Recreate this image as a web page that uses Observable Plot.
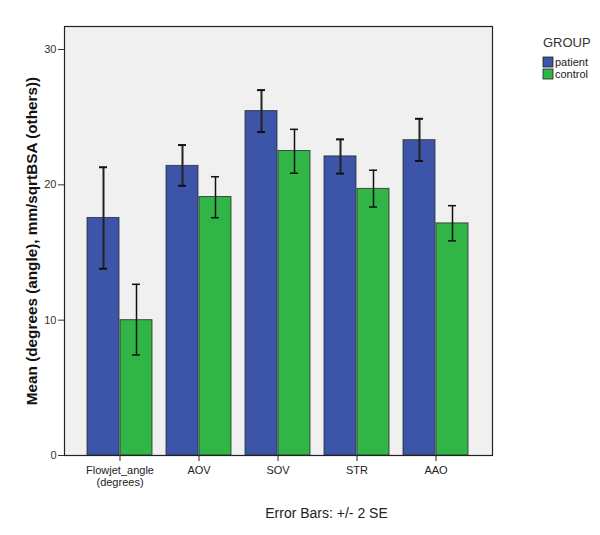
<!DOCTYPE html>
<html>
<head>
<meta charset="utf-8">
<script src="https://cdn.jsdelivr.net/npm/d3@7"></script>
<script src="https://cdn.jsdelivr.net/npm/@observablehq/plot@0.6"></script>
<style>
  html, body { margin: 0; padding: 0; background: #fff; }
  svg { font-family: "Liberation Sans", Arial, sans-serif; }
</style>
</head>
<body>
<div id="chart"></div>
<script>
const categories = ["Flowjet_angle\n(degrees)", "AOV", "SOV", "STR", "AAO"];
const groups = ["patient", "control"];
const patientMean = [17.55, 21.4, 25.45, 22.1, 23.3];
const patientLow  = [13.8, 19.93, 23.9, 20.83, 21.76];
const patientHigh = [21.3, 22.94, 27.0, 23.36, 24.88];
const controlMean = [10.0, 19.1, 22.5, 19.7, 17.15];
const controlLow  = [7.43, 17.57, 20.86, 18.36, 15.86];
const controlHigh = [12.65, 20.6, 24.1, 21.08, 18.46];
const yTicks = [0, 10, 20, 30];
const groupColors = ["#3d55a8", "#30b546"];

const patient = categories.map((c, i) => ({cat: c, mean: patientMean[i], lo: patientLow[i], hi: patientHigh[i]}));
const control = categories.map((c, i) => ({cat: c, mean: controlMean[i], lo: controlLow[i], hi: controlHigh[i]}));

const half = 16.5;
const chart = Plot.plot({
  width: 600,
  height: 535,
  marginLeft: 64,
  marginRight: 108,
  marginTop: 26,
  marginBottom: 80,
  style: {fontFamily: "Liberation Sans, Arial, sans-serif", background: "#fff"},
  x: {domain: categories, paddingInner: 0.175, paddingOuter: 0.2625, label: null},
  y: {domain: [0, 31.7], label: null},
  marks: [
    Plot.frame({fill: "#f0f0f0", stroke: "none"}),
    Plot.barY(patient, {x: "cat", y: "mean", fill: groupColors[0], insetRight: 33, stroke: "#2a2a2a", strokeWidth: 1, strokeOpacity: 0.8}),
    Plot.barY(control, {x: "cat", y: "mean", fill: groupColors[1], insetLeft: 33, stroke: "#2a2a2a", strokeWidth: 1, strokeOpacity: 0.8}),
    Plot.ruleX(patient, {x: "cat", y1: "lo", y2: "hi", dx: -half, stroke: "#222", strokeWidth: 2}),
    Plot.ruleX(control, {x: "cat", y1: "lo", y2: "hi", dx: half, stroke: "#111", strokeWidth: 1.5}),
    Plot.tickY(patient, {x: "cat", y: "lo", insetLeft: 12, insetRight: 45, stroke: "#111", strokeWidth: 2}),
    Plot.tickY(patient, {x: "cat", y: "hi", insetLeft: 12, insetRight: 45, stroke: "#111", strokeWidth: 2}),
    Plot.tickY(control, {x: "cat", y: "lo", insetLeft: 45, insetRight: 12, stroke: "#111", strokeWidth: 1.5}),
    Plot.tickY(control, {x: "cat", y: "hi", insetLeft: 45, insetRight: 12, stroke: "#111", strokeWidth: 1.5}),
    Plot.frame({stroke: "#222", strokeWidth: 1.2}),
    Plot.axisY({ticks: yTicks, tickSize: 6, tickPadding: 2, fontSize: 11, color: "#333", label: null}),
    Plot.axisX({tickSize: 6, tickPadding: 4, fontSize: 11, color: "#222", label: null, lineHeight: 1.1}),
    Plot.text(["Mean (degrees (angle), mm/sqrtBSA (others))"], {frameAnchor: "left", textAnchor: "middle", lineAnchor: "middle", rotate: -90, dx: -32, fontSize: 15.3, fontWeight: "bold", fill: "#111"}),
    Plot.text(["Error Bars: +/- 2 SE"], {frameAnchor: "bottom", lineAnchor: "middle", dx: 48, dy: 58, fontSize: 14, fill: "#222"})
  ]
});

const svg = d3.select(chart);
const lg = svg.append("g").attr("font-family", "Liberation Sans, Arial, sans-serif").attr("text-anchor", "start");
lg.append("text").attr("x", 543).attr("y", 47).attr("font-size", 13).attr("fill", "#333").text("GROUP");
groups.forEach((g, i) => {
  const y0 = 57 + i * 12;
  lg.append("rect").attr("x", 543).attr("y", y0).attr("width", 10).attr("height", 10)
    .attr("fill", groupColors[i]).attr("stroke", "#222").attr("stroke-width", 0.8);
  lg.append("text").attr("x", 555).attr("y", y0 + 9).attr("font-size", 11).attr("fill", "#222").text(g);
});

document.getElementById("chart").appendChild(chart);
</script>
</body>
</html>
